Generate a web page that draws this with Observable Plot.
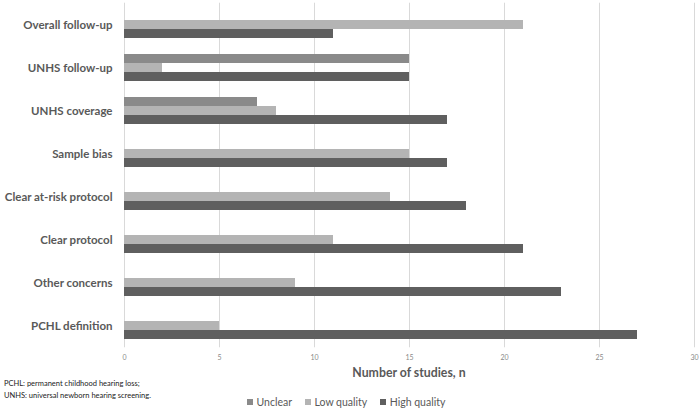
<!DOCTYPE html>
<html>
<head>
<meta charset="utf-8">
<script src="https://cdn.jsdelivr.net/npm/d3@7"></script>
<script src="https://cdn.jsdelivr.net/npm/@observablehq/plot@0.6"></script>
<style>
  body { margin: 0; background: #fff; }
  #wrap { position: relative; width: 700px; height: 408px; font-family: Lato, "Open Sans", sans-serif; }
  #foot { position: absolute; left: 4px; top: 378px; font-size: 7.5px; line-height: 12px; color: #222; }
  #legend { position: absolute; left: 247px; top: 395px; font-size: 10.5px; line-height: 14px; color: #595959; display: flex; }
  #legend span.item { display: inline-flex; align-items: center; margin-right: 13px; }
  #legend span.sw { display: inline-block; width: 6px; height: 6px; margin-right: 3.5px; }
  #xtitle { position: absolute; left: 124px; width: 570px; top: 365px; text-align: center; font-weight: bold; font-size: 12.3px; color: #595959; }
</style>
</head>
<body>
<div id="wrap">
  <div id="chart"></div>
  <div id="xtitle"></div>
  <div id="foot"></div>
  <div id="legend"></div>
</div>
<script>
const categories = ["Overall follow-up", "UNHS follow-up", "UNHS coverage", "Sample bias", "Clear at-risk protocol", "Clear protocol", "Other concerns", "PCHL definition"];
const series = ["Unclear", "Low quality", "High quality"];
const unclear = [0, 15, 7, 0, 0, 0, 0, 0];
const lowQuality = [21, 2, 8, 15, 14, 11, 9, 5];
const highQuality = [11, 15, 17, 17, 18, 21, 23, 27];
const xTicks = [0, 5, 10, 15, 20, 25, 30];
const colors = ["#8a8a8a", "#b4b4b4", "#5f5f5f"];
const xTitle = "Number of studies, n";
const footnotes = ["PCHL: permanent childhood hearing loss;", "UNHS: universal newborn hearing screening."];

const seriesValues = [unclear, lowQuality, highQuality];
const data = [];
categories.forEach((c, i) => series.forEach((s, j) => data.push({category: c, series: s, value: seriesValues[j][i]})));

const H = 380, MT = 0, MB = 31, PI = 0.38, PO = 0.19;
const step = (H - MT - MB) / (categories.length - PI + 2 * PO);
const halfGap = step * PO;

const chart = Plot.plot({
  width: 700,
  height: H,
  marginLeft: 124,
  marginRight: 6,
  marginTop: MT,
  marginBottom: MB,
  style: {fontFamily: "Lato, 'Open Sans', sans-serif", background: "#fff"},
  x: {domain: [0, 30]},
  fy: {domain: categories, paddingInner: PI, paddingOuter: PO, label: null},
  y: {domain: series, padding: 0, axis: null},
  color: {domain: series, range: colors},
  marks: [
    Plot.ruleX(xTicks, {stroke: "#d9d9d9", strokeWidth: 1, insetTop: -halfGap, insetBottom: -halfGap}),
    Plot.barX(data.filter(d => d.value > 0), {x: "value", y: "series", fy: "category", fill: "series"}),
    Plot.axisX(xTicks, {tickSize: 0, tickPadding: 7 + halfGap, fontSize: 7, fill: "#8a8a8a", label: null}),
    Plot.axisFy({anchor: "left", tickSize: 0, tickPadding: 12, fontSize: 11.5, fontWeight: "bold", fill: "#595959", label: null})
  ]
});
document.getElementById("chart").appendChild(chart);
document.getElementById("xtitle").textContent = xTitle;
document.getElementById("foot").innerHTML = footnotes.map(t => `<div>${t}</div>`).join("");
document.getElementById("legend").innerHTML = series.map((s, i) =>
  `<span class="item"><span class="sw" style="background:${colors[i]}"></span>${s}</span>`).join("");
</script>
</body>
</html>
